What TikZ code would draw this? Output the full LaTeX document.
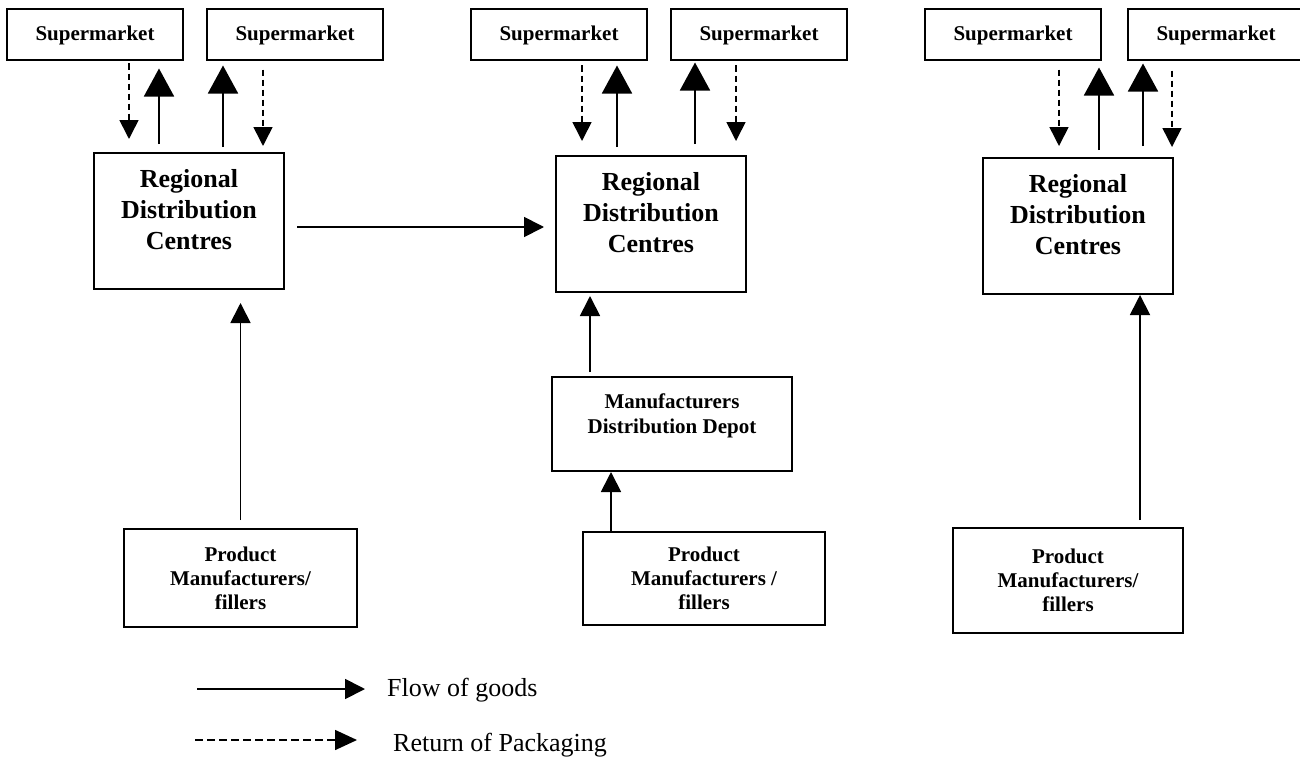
\documentclass[tikz,border=0pt]{standalone}
\usepackage{fontspec}
\setmainfont{Liberation Serif}
\usepackage{tikz}
\usetikzlibrary{shapes}
\usetikzlibrary{arrows.meta}
\tikzstyle{shop}=[draw, rectangle, line width=2pt, minimum width=176pt,
        minimum height=51pt, inner sep=0pt,
        font=\bfseries\fontsize{21}{25}\selectfont]
\tikzstyle{centre}=[draw, rectangle, line width=2pt, minimum width=190pt,
        minimum height=136pt, inner sep=0pt]
\tikzstyle{centretxt}=[align=center, inner sep=0pt,
        font=\bfseries\fontsize{26}{31}\selectfont]
\tikzstyle{depot}=[draw, rectangle, line width=2pt, minimum width=240pt,
        minimum height=94pt, inner sep=0pt]
\tikzstyle{depottxt}=[align=center, inner sep=0pt,
        font=\bfseries\fontsize{21}{24.5}\selectfont]
\tikzstyle{maker}=[draw, rectangle, line width=2pt, align=center, inner sep=0pt,
        font=\bfseries\fontsize{21}{24}\selectfont]
\tikzstyle{flow}=[-{Triangle[length=20pt,width=20pt]}, line width=1.8pt]
\tikzstyle{upflow}=[-{Triangle[length=28pt,width=30pt]}, line width=1.8pt]
\tikzstyle{retour}=[-{Triangle[length=19pt,width=19pt]}, line width=1.6pt,
        dash pattern=on 6pt off 4pt]
\tikzstyle{legende}=[anchor=west, inner sep=0pt, font=\fontsize{26}{30}\selectfont]

\begin{document}
\begin{tikzpicture}[x=1pt,y=-1pt]
\useasboundingbox (0,0) rectangle (1300,760);
\node[shop] (s1) at (95,35) {Supermarket};
\node[shop] (s2) at (295,35) {Supermarket};
\node[shop] (s3) at (559,35) {Supermarket};
\node[shop] (s4) at (759,35) {Supermarket};
\node[shop] (s5) at (1013,35) {Supermarket};
\node[shop] (s6) at (1216,35) {Supermarket};
\node[centre] (rdc1) at (189,221) {};
\node[centre] (rdc2) at (651,224) {};
\node[centre] (rdc3) at (1078,226) {};
\node[centretxt] (t1) at ([yshift=11pt]rdc1.center) {Regional\\Distribution\\Centres};
\node[centretxt] (t2) at ([yshift=11pt]rdc2.center) {Regional\\Distribution\\Centres};
\node[centretxt] (t3) at ([yshift=11pt]rdc3.center) {Regional\\Distribution\\Centres};
\node[depot] (mdd) at (672,424) {};
\node[depottxt] (mddtxt) at ([yshift=8pt]mdd.center) {Manufacturers\\Distribution Depot};
\node[maker, minimum width=233pt, minimum height=98pt] (pm1) at (240.5,578) {Product\\Manufacturers/\\fillers};
\node[maker, minimum width=242pt, minimum height=93pt] (pm2) at (704,578.5) {Product\\Manufacturers /\\fillers};
\node[maker, minimum width=230pt, minimum height=105pt] (pm3) at (1068,580.5) {Product\\Manufacturers/\\fillers};
%supermarkets
\draw[retour, shorten <=2pt, shorten >=13pt] ([xshift=34pt]s1.south) -- ([xshift=34pt]s1.south |- rdc1.north);
\draw[upflow, shorten <=8pt, shorten >=7pt] ([xshift=-30pt]rdc1.north) -- ([xshift=-30pt]rdc1.north |- s1.south);
\draw[upflow, shorten <=5pt, shorten >=4pt] ([xshift=34pt]rdc1.north) -- ([xshift=34pt]rdc1.north |- s2.south);
\draw[retour, shorten <=8pt, shorten >=6pt] ([xshift=-32pt]s2.south) -- ([xshift=-32pt]s2.south |- rdc1.north);
\draw[retour, shorten <=4pt, shorten >=14pt] ([xshift=23pt]s3.south) -- ([xshift=23pt]s3.south |- rdc2.north);
\draw[upflow, shorten <=8pt, shorten >=4pt] ([xshift=-34pt]rdc2.north) -- ([xshift=-34pt]rdc2.north |- s3.south);
\draw[upflow, shorten <=11pt, shorten >=1pt] ([xshift=44pt]rdc2.north) -- ([xshift=44pt]rdc2.north |- s4.south);
\draw[retour, shorten <=4pt, shorten >=14pt] ([xshift=-23pt]s4.south) -- ([xshift=-23pt]s4.south |- rdc2.north);
\draw[retour, shorten <=8pt, shorten >=11pt] ([xshift=46pt]s5.south) -- ([xshift=46pt]s5.south |- rdc3.north);
\draw[upflow, shorten <=7pt, shorten >=6pt] ([xshift=21pt]rdc3.north) -- ([xshift=21pt]rdc3.north |- s5.south);
\draw[upflow, shorten <=11pt, shorten >=2pt] ([xshift=65pt]rdc3.north) -- ([xshift=65pt]rdc3.north |- s6.south);
\draw[retour, shorten <=9pt, shorten >=10pt] ([xshift=-44pt]s6.south) -- ([xshift=-44pt]s6.south |- rdc3.north);
%fabricants
\draw[flow, shorten <=12pt, shorten >=11pt] ([yshift=-6pt]rdc1.east) -- ([yshift=-6pt]rdc1.east -| rdc2.west);
\draw[flow, shorten <=8pt, shorten >=13pt] (pm1.north) -- (pm1.north |- rdc1.south);
\draw[flow, shorten <=4pt, shorten >=3pt] ([xshift=-82pt]mdd.north) -- ([xshift=-82pt]mdd.north |- rdc2.south);
\draw[flow] ([xshift=-93pt]pm2.north) -- ([xshift=-93pt]pm2.north |- mdd.south);
\draw[flow, shorten <=7pt] ([xshift=72pt]pm3.north) -- ([xshift=72pt]pm3.north |- rdc3.south);
%legende
\coordinate (f0) at (197,689);
\node[legende] (flowtxt) at (387,690) {Flow of goods};
\draw[flow, shorten >=22pt] (f0) -- (f0 -| flowtxt.west);
\coordinate (r0) at (195,740);
\node[legende] (rettxt) at (393,745) {Return of Packaging};
\draw[retour, dash pattern=on 8pt off 4pt, -{Triangle[length=22pt,width=20pt]}, shorten >=36pt] (r0) -- (r0 -| rettxt.west);
\end{tikzpicture}
\end{document}
